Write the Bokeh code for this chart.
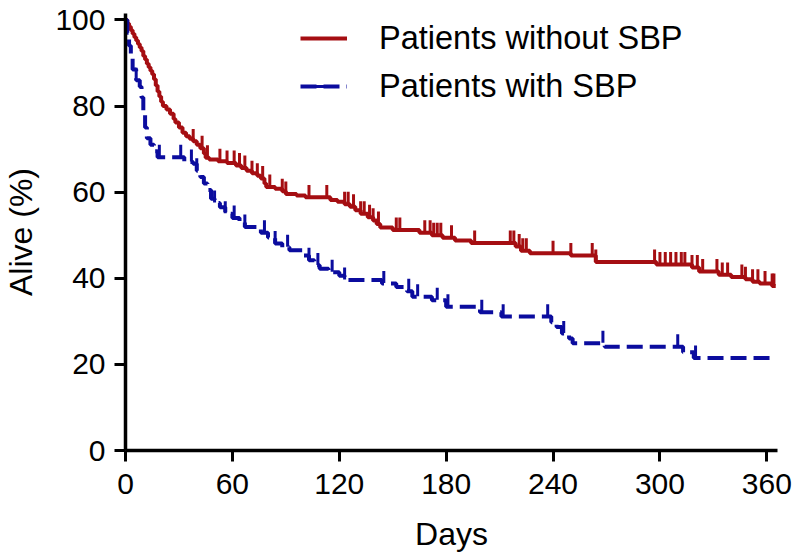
import numpy as np
from bokeh.plotting import figure
from bokeh.models import Range1d, FixedTicker, Legend, LegendItem
from bokeh.embed import file_html
from bokeh.resources import INLINE

# ---- data (Kaplan-Meier curves) ----
red_days = [0, 1, 2, 3, 4, 5, 6, 7, 8, 9, 10, 11, 12, 13, 14, 15, 16, 17, 18, 19, 20, 21,
            23, 25, 27, 28, 30, 32, 34, 36, 38, 40, 42, 44, 45, 47,
            52, 57, 62, 65, 68, 71, 74, 76, 78, 79,
            84, 88, 90, 96, 101, 115, 119, 123, 126, 129,
            132, 136, 139, 141, 143, 150, 165, 172, 178, 185,
            194, 219, 222, 227, 250, 264, 298, 318, 322, 333,
            340, 348, 352, 356, 363, 365]
red_surv = [100, 99.2, 98.4, 97.6, 96.8, 96.0, 95.2, 94.4, 93.6, 92.8,
            91.6, 90.8, 89.8, 89.0, 88.2, 87.4, 86.2, 84.8, 83.4, 82.2,
            81.0, 80.0,
            79.2, 78.2, 77.0, 76.2, 75.0, 73.8, 73.0, 72.4, 71.8, 71.0, 70.2, 69.0, 68.0, 67.6,
            67.2, 66.8, 66.2, 65.6, 65.0, 64.4, 63.8, 63.2, 62.0, 61.2,
            60.8, 60.2, 59.6, 59.2, 58.8, 58.2, 57.8, 57.2, 56.6, 55.8,
            55.0, 54.2, 53.4, 52.6, 51.8, 51.2, 50.6, 50.0, 49.4, 48.8,
            48.2, 47.4, 46.4, 45.8, 45.3, 43.8, 43.2, 42.5, 41.6, 40.8,
            40.3, 39.8, 39.2, 38.8, 38.2, 38.2]
red_censor = [38, 43, 46, 53, 57, 61, 64, 67, 71, 74, 77, 81, 88, 90, 103, 113, 123, 125,
              128, 132, 134, 137, 139, 142, 152, 154, 168, 171, 173, 175, 177, 183, 196,
              216, 218, 221, 223, 225, 240, 250, 262, 264, 297, 300, 303, 306, 309, 312,
              314, 318, 321, 324, 332, 335, 338, 346, 348, 352, 355, 359, 363, 364]

blue_days = [0, 1, 2, 3, 4, 6, 8, 9, 10, 11,
             12, 14, 16, 18, 33, 38, 40, 42, 44, 46,
             48, 50, 53, 56, 60, 64, 67, 76, 80, 84,
             88, 92, 100, 103, 106, 109, 114, 120, 123, 144,
             152, 158, 161, 172, 180, 199, 211, 239, 242, 245,
             249, 251, 269, 313, 319, 365]
blue_surv = [100, 97, 94, 91, 88.5, 86, 84.5, 82, 78, 75,
             72.5, 71, 69.5, 68.1, 67, 66.6, 65, 63.5, 62, 60.5,
             58.5, 57.5, 56.5, 55, 54, 53, 51.9, 50.6, 49.5, 48.1,
             47.2, 46.5, 45.3, 44.2, 43, 42.2, 41.4, 40.6, 39.6, 38.8,
             38, 37, 35.7, 34.9, 33.4, 32.1, 31.1, 29.8, 28.7, 27.2,
             26, 24.9, 24.1, 22.8, 21.5, 21.5]
blue_censor = [6, 19, 31, 37, 40, 50, 56, 61, 67, 78, 84, 91, 103, 108, 116, 123, 145,
               159, 164, 175, 181, 200, 212, 237, 246, 268, 310, 320]

x_ticks = [0, 60, 120, 180, 240, 300, 360]
y_ticks = [0, 20, 40, 60, 80, 100]
series_labels = ["Patients without SBP", "Patients with SBP"]
x_title = "Days"
y_title = "Alive (%)"

RED = "#a50e12"
BLUE = "#0b0c9e"
FONT = "Liberation Sans"


def surv_at(days, surv, t):
    idx = np.searchsorted(np.asarray(days), np.asarray(t), side="right") - 1
    return np.asarray(surv)[idx]


W, H = 792, 554
p = figure(width=W, height=H, output_backend="svg", toolbar_location=None,
           x_range=Range1d(0, 366), y_range=Range1d(0, 101.5),
           min_border_left=123, min_border_right=15, min_border_top=13,
           min_border_bottom=103)
p.outline_line_color = None
p.grid.visible = False

tick_up = 1.5  # censor ticks sit just above the curve

r_red = p.step(red_days, red_surv, mode="after", line_color=RED, line_width=4)
s_red = p.scatter(red_censor, surv_at(red_days, red_surv, red_censor) + tick_up,
                  marker="dash", angle=np.pi / 2, size=12, line_color=RED,
                  line_width=3, fill_color=RED)

r_blue = p.step(blue_days, blue_surv, mode="after", line_color=BLUE, line_width=4,
                line_dash="16 7")
s_blue = p.scatter(blue_censor, surv_at(blue_days, blue_surv, blue_censor) + tick_up,
                   marker="dash", angle=np.pi / 2, size=12, line_color=BLUE,
                   line_width=3, fill_color=BLUE)

p.xaxis.ticker = FixedTicker(ticks=x_ticks)
p.yaxis.ticker = FixedTicker(ticks=y_ticks)
p.xaxis.axis_label = x_title
p.yaxis.axis_label = y_title

for ax in (p.xaxis[0], p.yaxis[0]):
    ax.axis_line_width = 3.5
    ax.axis_line_color = "black"
    ax.major_tick_line_width = 3
    ax.major_tick_line_color = "black"
    ax.major_tick_out = 11
    ax.major_tick_in = 0
    ax.minor_tick_out = 0
    ax.minor_tick_in = 0
    ax.major_label_text_font = FONT
    ax.major_label_text_font_size = "30px"
    ax.major_label_text_color = "black"
    ax.axis_label_text_font = FONT
    ax.axis_label_text_font_size = "32px"
    ax.axis_label_text_font_style = "normal"
    ax.axis_label_text_color = "black"
p.xaxis.major_label_standoff = 12
p.xaxis.axis_label_standoff = 19
p.yaxis.major_label_standoff = 9
p.yaxis.axis_label_standoff = 13

legend = Legend(items=[LegendItem(label=series_labels[0], renderers=[r_red, s_red]),
                       LegendItem(label=series_labels[1], renderers=[r_blue, s_blue])],
                location=(175, 344), glyph_width=47, glyph_height=40,
                label_standoff=32, spacing=8, padding=0, margin=0,
                border_line_alpha=0, background_fill_alpha=0,
                label_text_font=FONT, label_text_font_size="32.5px",
                label_text_color="black")
p.add_layout(legend)

open("out.html", "w").write(file_html(p, INLINE))
